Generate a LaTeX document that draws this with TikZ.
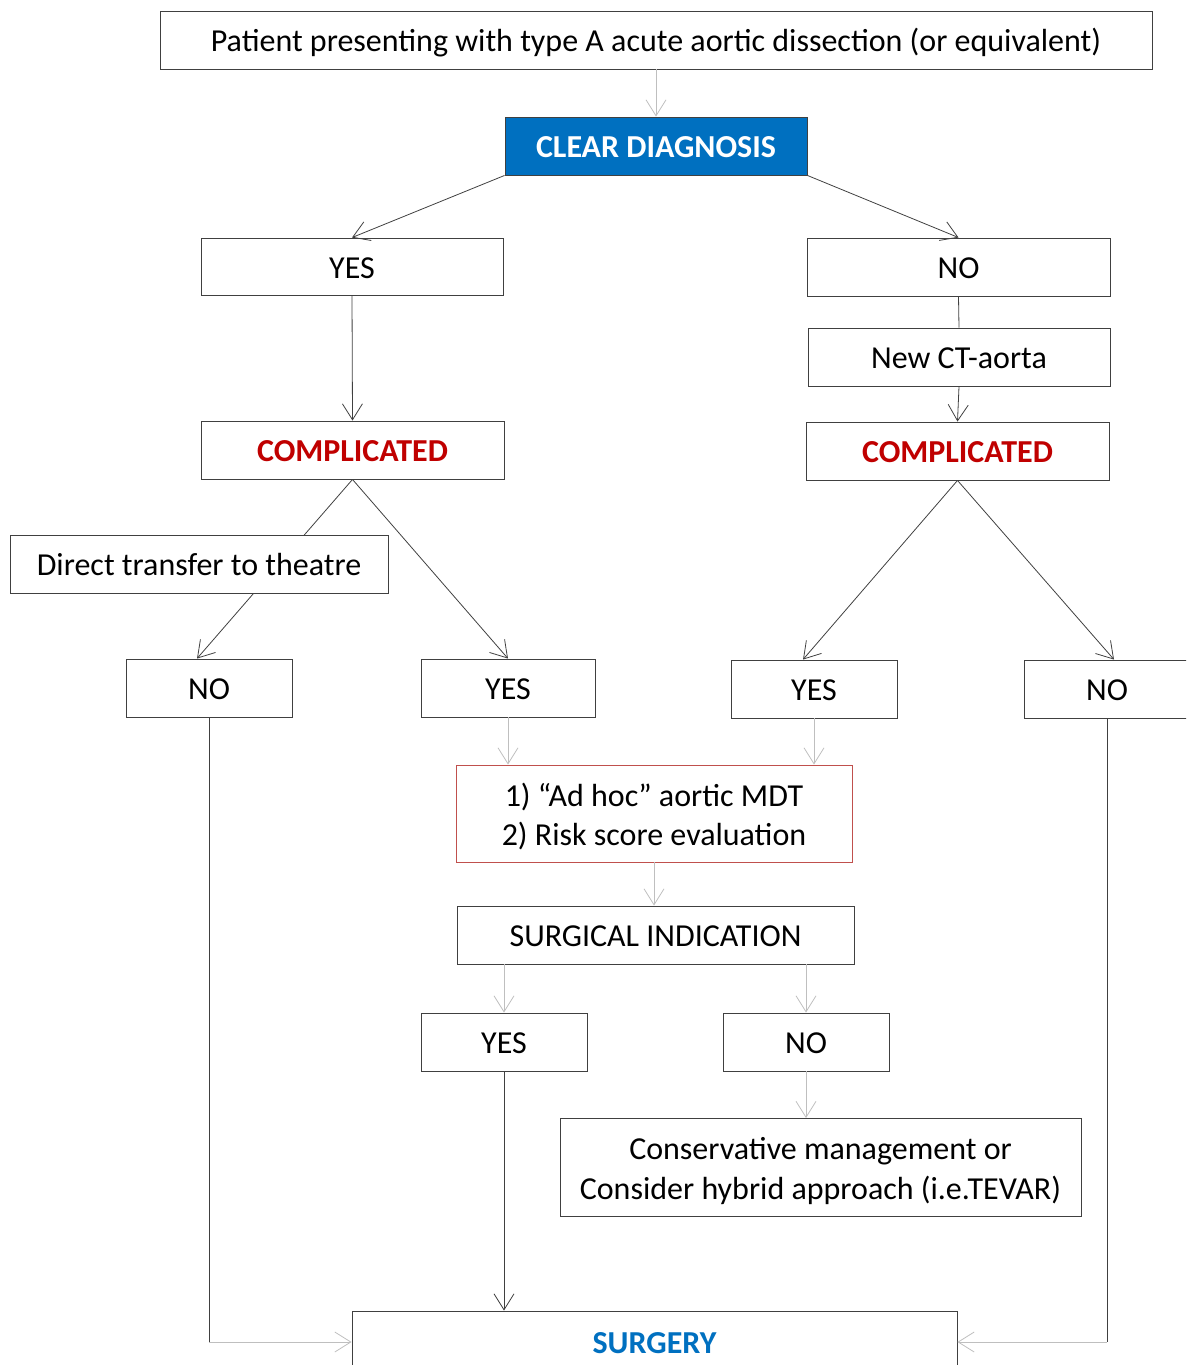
\documentclass[tikz,border=0pt]{standalone}
\usepackage{fontspec}
\setmainfont{Carlito}
\usetikzlibrary{arrows.meta,backgrounds}
\definecolor{dkline}{HTML}{404040}
\definecolor{ltline}{HTML}{BFBFBF}
\definecolor{boxred}{HTML}{C0504D}
\definecolor{txtred}{HTML}{C00000}
\definecolor{txtblue}{HTML}{0070C0}
\tikzset{
  box/.style={draw=dkline, line width=0.9pt, fill=white, rectangle, inner sep=0pt,
    text height=29pt, text depth=6pt, font=\fontsize{32}{39}\selectfont},
  boldtxt/.style={font=\fontsize{32}{39}\selectfont\bfseries},
  emptybox/.style={draw=dkline, line width=0.9pt, fill=white, rectangle, inner sep=0pt},
  lbl/.style={inner sep=0pt},
  dk/.style={draw=dkline, line width=0.8pt},
  lt/.style={draw=ltline, line width=1pt},
  tip/.style={-{Straight Barb[length=16pt,width=20pt,line width=0.8pt]}},
}
\begin{document}
\begin{tikzpicture}[x=1pt,y=-1pt]
\useasboundingbox (0,0) rectangle (1186,1365);
\clip (0,0) rectangle (1186,1365);
\node[box, minimum width=992, minimum height=58] (top) at (656,40) {Patient presenting with type A acute aortic dissection (or equivalent)};
\node[box, boldtxt, minimum width=302, minimum height=58, fill=txtblue, text=white] (clear) at (656,146) {CLEAR DIAGNOSIS};
\node[box, minimum width=302, minimum height=57] (yes1) at (352,266.5) {YES};
\node[box, minimum width=303, minimum height=58] (no1) at (958.5,267) {NO};
\node[box, minimum width=302, minimum height=58] (ct) at (959,357) {New CT-aorta};
\node[box, boldtxt, minimum width=303, minimum height=58, text=txtred] (compL) at (352.5,450) {COMPLICATED};
\node[box, boldtxt, minimum width=303, minimum height=58, text=txtred] (compR) at (957.5,451) {COMPLICATED};
\node[box, minimum width=378, minimum height=58] (direct) at (199,564) {Direct transfer to theatre};
\node[box, minimum width=166, minimum height=58] (noL) at (209,688) {NO};
\node[box, minimum width=174, minimum height=58] (yesL) at (508,688) {YES};
\node[box, minimum width=166, minimum height=58] (yesR) at (814,689) {YES};
\node[box, minimum width=166, minimum height=58] (noR) at (1107,689) {NO};
\node[emptybox, draw=boxred, minimum width=396, minimum height=97] (mdt) at (654,813.5) {};
\node[lbl, font=\fontsize{32}{39.5}\selectfont] (mdttxt) at ([yshift=-4.6pt]mdt.center)
  {\begin{tabular}{@{}c@{}}1) “Ad hoc” aortic MDT\\2) Risk score evaluation\end{tabular}};
\node[box, minimum width=397, minimum height=58] (sind) at (655.5,935) {SURGICAL INDICATION};
\node[box, minimum width=166, minimum height=58] (yesB) at (504,1042) {YES};
\node[box, minimum width=166, minimum height=58] (noB) at (806,1042) {NO};
\node[emptybox, minimum width=521, minimum height=98] (cons) at (820.5,1167.5) {};
\node[lbl, font=\fontsize{32}{39.5}\selectfont] (constxt) at ([yshift=-4pt]cons.center)
  {\begin{tabular}{@{}c@{}}Conservative management or\\Consider hybrid approach (i.e.TEVAR)\end{tabular}};
\node[box, boldtxt, minimum width=605, minimum height=62, text=txtblue] (surg) at (654.5,1342) {SURGERY};

\begin{scope}[on background layer]
\draw[dk, tip] (compL.south) -- ([xshift=-12pt]noL.north);
\end{scope}
\draw[lt, tip] (top.south) -- (clear.north);
\draw[dk, tip] (clear.south west) -- (yes1.north);
\draw[dk, tip] (clear.south east) -- (no1.north);
\draw[dk, tip] (yes1.south) -- (compL.north);
\draw[dk] (no1.south) -- (ct.north);
\draw[dk, tip] (ct.south) -- (compR.north);
\draw[dk, tip] (compL.south) -- (yesL.north);
\draw[dk, tip] (compR.south) -- ([xshift=-11pt]yesR.north);
\draw[dk, tip] (compR.south) -- ([xshift=7pt]noR.north);
\draw[lt, tip] (yesL.south) -- (yesL.south |- mdt.north);
\draw[lt, tip] (yesR.south) -- (yesR.south |- mdt.north);
\draw[lt, tip] (mdt.south) -- (mdt.south |- sind.north);
\draw[lt, tip] (yesB.north |- sind.south) -- (yesB.north);
\draw[lt, tip] (noB.north |- sind.south) -- (noB.north);
\draw[lt, tip] (noB.south) -- (noB.south |- cons.north);
\draw[dk, tip] (yesB.south) -- (yesB.south |- surg.north);
\coordinate (cL) at (noL.south |- surg.west);
\coordinate (cR) at (noR.south |- surg.east);
\draw[dk] (noL.south) -- (cL);
\draw[lt, tip] (cL) -- (surg.west);
\draw[dk] (noR.south) -- (cR);
\draw[lt, tip] (cR) -- (surg.east);
\end{tikzpicture}
\end{document}
